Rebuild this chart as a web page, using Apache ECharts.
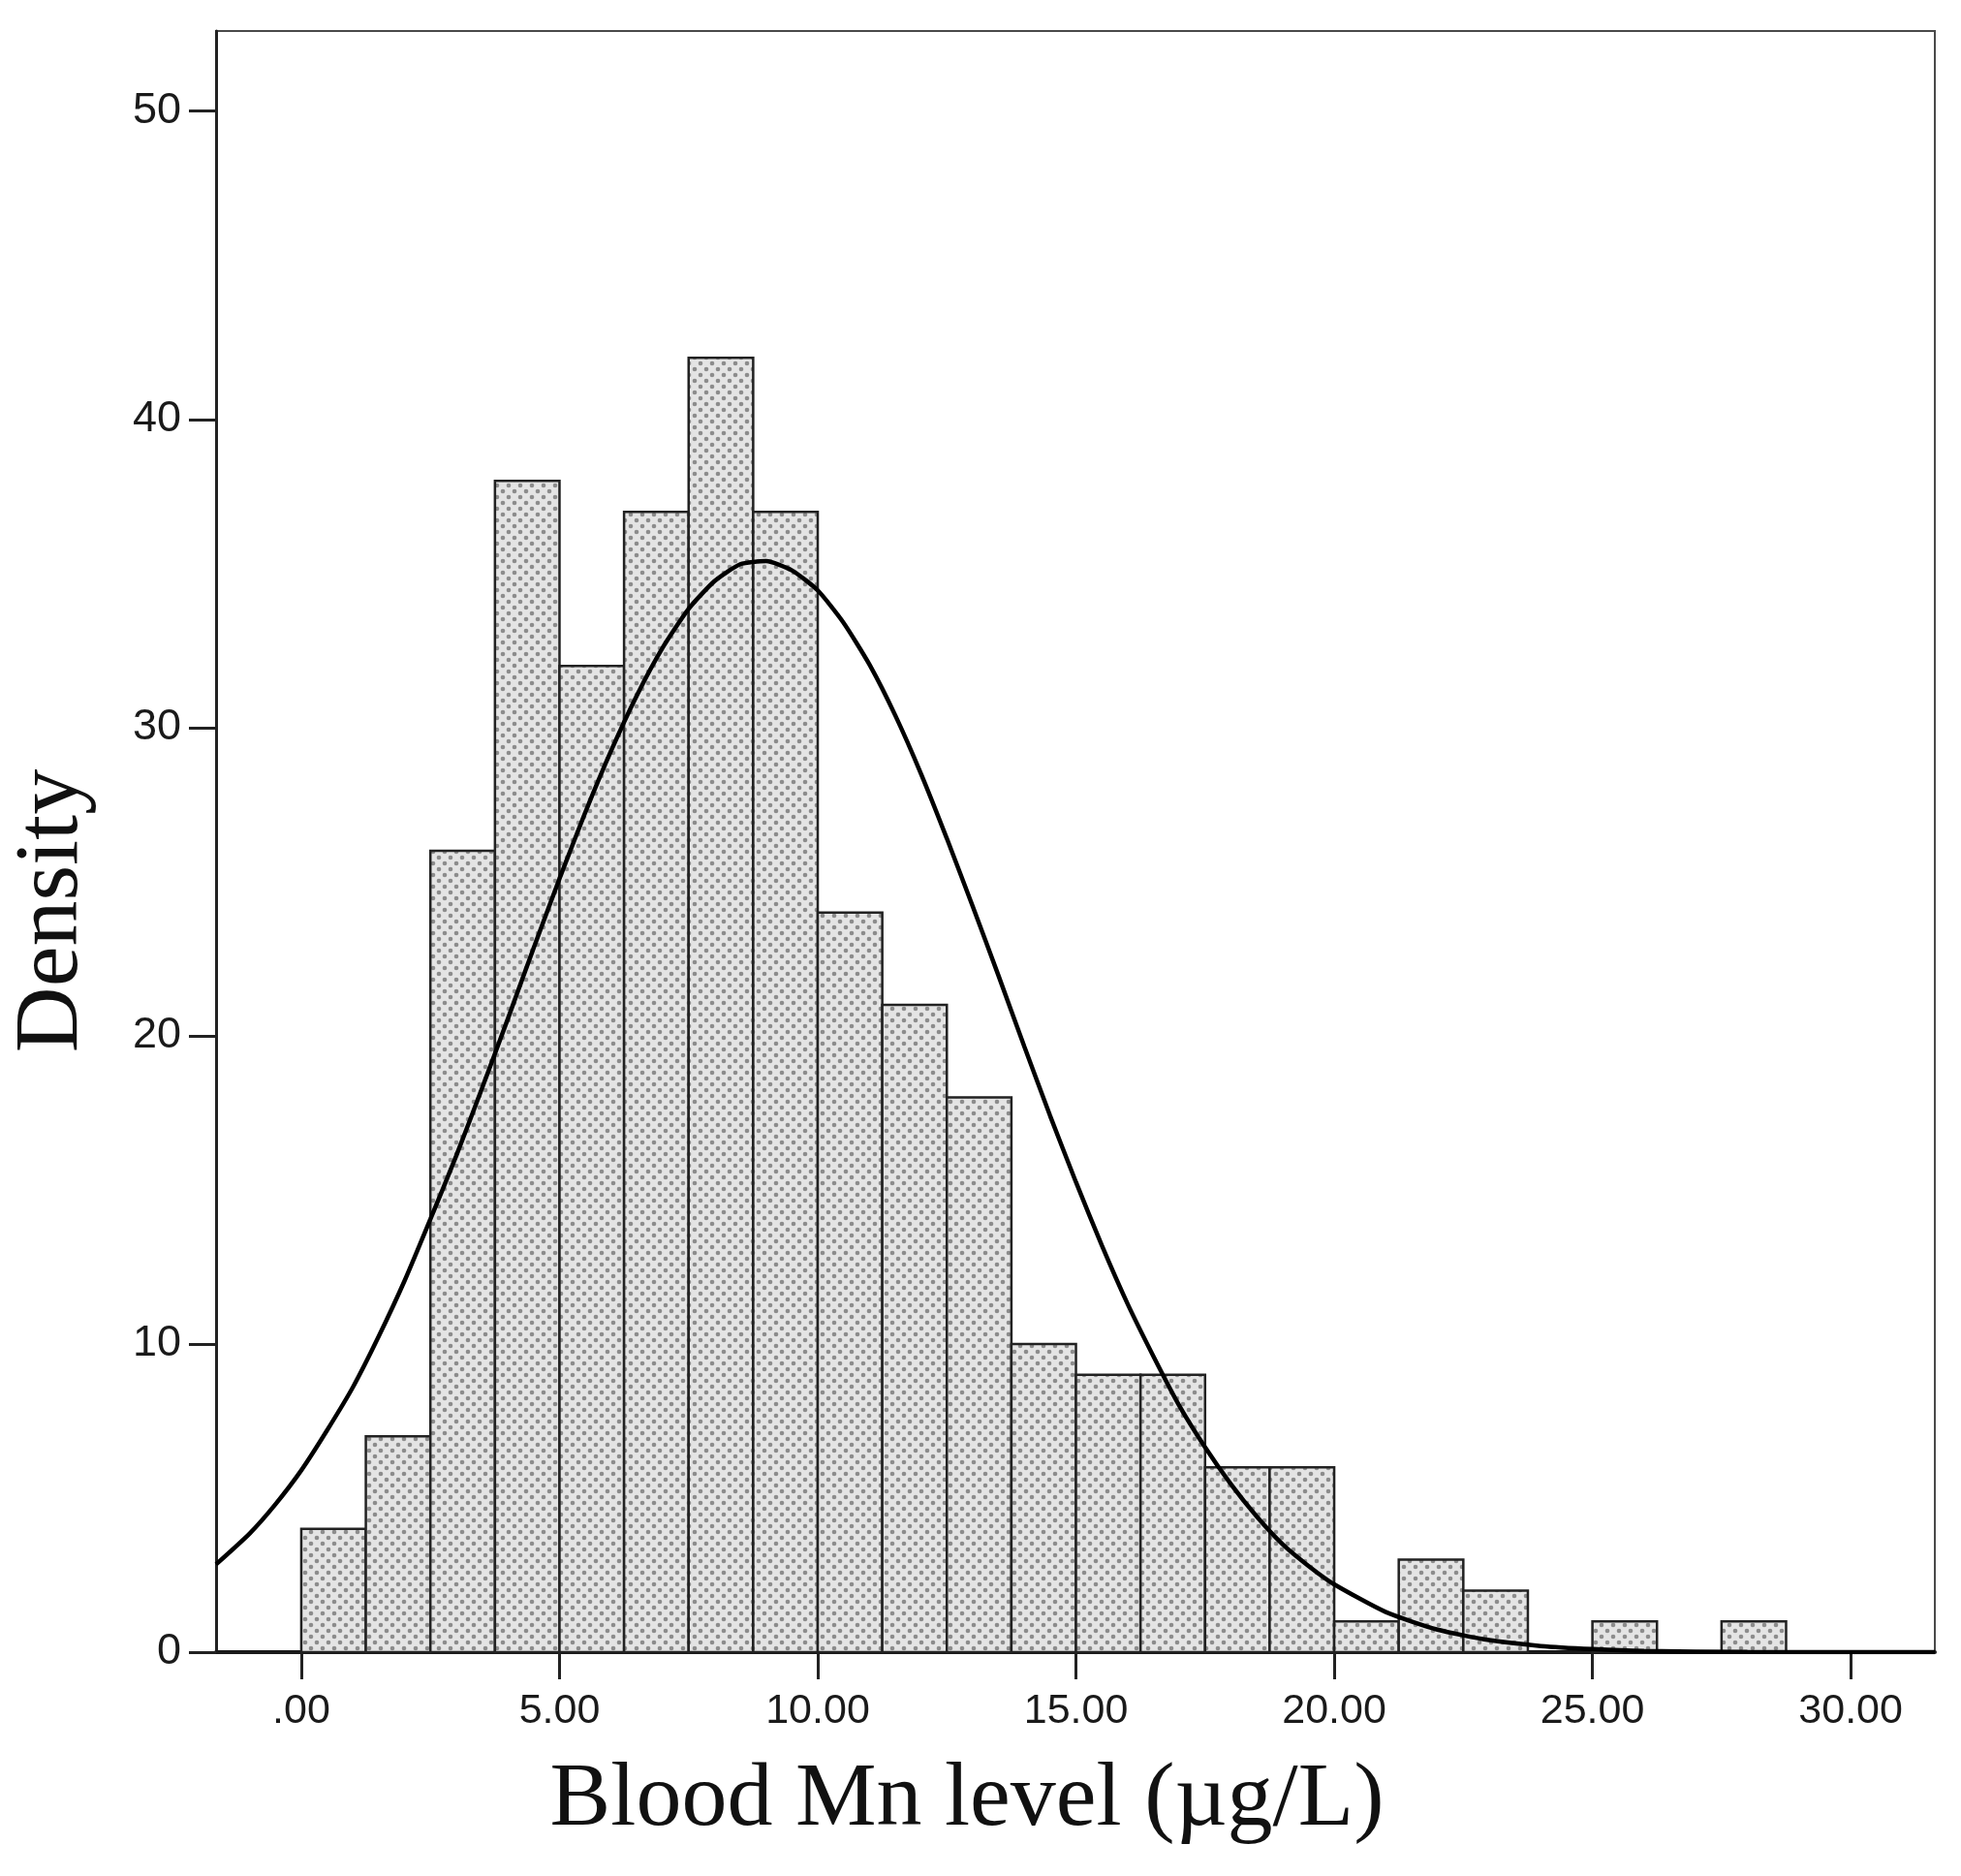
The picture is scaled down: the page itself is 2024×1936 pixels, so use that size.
<!DOCTYPE html>
<html>
<head>
<meta charset="utf-8">
<script src="https://cdn.jsdelivr.net/npm/echarts@6/dist/echarts.min.js"></script>
<style>
html,body{margin:0;padding:0;background:#fff;}
#chart{width:2024px;height:1936px;}
</style>
</head>
<body>
<div id="chart"></div>
<script>
// Histogram bins (Blood Mn level, µg/L)
var binStart = [0, 1.25, 2.5, 3.75, 5, 6.25, 7.5, 8.75, 10, 11.25, 12.5, 13.75, 15, 16.25, 17.5, 18.75, 20, 21.25, 22.5, 23.75, 25, 26.25, 27.5];
var binEnd   = [1.25, 2.5, 3.75, 5, 6.25, 7.5, 8.75, 10, 11.25, 12.5, 13.75, 15, 16.25, 17.5, 18.75, 20, 21.25, 22.5, 23.75, 25, 26.25, 27.5, 28.75];
var counts   = [4, 7, 26, 38, 32, 37, 42, 37, 24, 21, 18, 10, 9, 9, 6, 6, 1, 3, 2, 0, 1, 0, 1];

// Fitted normal curve
var curveX = [-1.65, -1, -0.5, 0, 0.5, 1, 1.5, 2, 2.5, 3, 3.5, 4, 4.5, 5, 5.5, 6, 6.5, 7, 7.5, 8, 8.5, 9, 9.5, 10, 10.5, 11, 11.5, 12, 12.5, 13, 13.5, 14, 14.5, 15, 15.5, 16, 16.5, 17, 17.5, 18, 18.5, 19, 19.5, 20, 21, 22, 23, 24, 25, 26, 28, 31.63];
var curveY = [2.85, 3.85, 4.8, 5.9, 7.2, 8.6, 10.25, 12.05, 14.05, 16.1, 18.3, 20.55, 22.85, 25.1, 27.25, 29.25, 31.05, 32.6, 33.85, 34.75, 35.3, 35.4, 35.1, 34.45, 33.4, 32.05, 30.4, 28.5, 26.4, 24.2, 21.95, 19.65, 17.4, 15.25, 13.2, 11.3, 9.6, 8.0, 6.65, 5.45, 4.4, 3.5, 2.8, 2.2, 1.3, 0.73, 0.39, 0.2, 0.1, 0.04, 0.005, 0];

var xTicks = [0, 5, 10, 15, 20, 25, 30];
var yTicks = [0, 10, 20, 30, 40, 50];

var xTitle = 'Blood Mn level (µg/L)';
var yTitle = 'Density';

var barData = [];
for (var i = 0; i < counts.length; i++) {
  if (counts[i] > 0) barData.push([binStart[i], binEnd[i], counts[i]]);
}
var curveData = curveX.map(function (x, i) { return [x, curveY[i]]; });

// dotted fill pattern
var pc = document.createElement('canvas');
pc.width = 12; pc.height = 12;
var g = pc.getContext('2d');
g.fillStyle = '#e4e4e4';
g.fillRect(0, 0, 12, 12);
g.fillStyle = '#8c8c8c';
[[3, 3], [9, 9]].forEach(function (p) {
  g.beginPath(); g.arc(p[0], p[1], 2.3, 0, Math.PI * 2); g.fill();
});

var chart = echarts.init(document.getElementById('chart'), null, {renderer: 'canvas'});
chart.setOption({
  animation: false,
  backgroundColor: '#fff',
  grid: {left: 223, right: 27, top: 32, bottom: 231, show: true, borderColor: '#4a4a4a', borderWidth: 2, backgroundColor: 'transparent'},
  xAxis: {
    type: 'value', min: -1.65, max: 31.63,
    axisLine: {show: true, onZero: false, lineStyle: {color: '#1a1a1a', width: 4}},
    axisTick: {show: true, customValues: xTicks, length: 28, lineStyle: {color: '#222', width: 3}},
    axisLabel: {customValues: xTicks, margin: 40, fontFamily: 'Liberation Sans', fontSize: 43, color: '#1a1a1a',
      formatter: function (v) { return v === 0 ? '.00' : v.toFixed(2); }},
    splitLine: {show: false}
  },
  yAxis: {
    type: 'value', min: 0, max: 52.6,
    axisLine: {show: true, onZero: false, lineStyle: {color: '#222', width: 3}},
    axisTick: {show: true, customValues: yTicks, length: 28, lineStyle: {color: '#222', width: 3}},
    axisLabel: {customValues: yTicks, margin: 36, fontFamily: 'Liberation Sans', fontSize: 45, color: '#1a1a1a'},
    splitLine: {show: false}
  },
  graphic: [
    {type: 'text', x: 998, y: 1858, style: {text: xTitle, font: '94px "Liberation Serif"', fill: '#111', align: 'center', verticalAlign: 'middle'}},
    {type: 'text', x: 54, y: 940, rotation: Math.PI / 2, style: {text: yTitle, font: '94px "Liberation Serif"', fill: '#111', align: 'center', verticalAlign: 'middle'}}
  ],
  series: [
    {
      type: 'custom',
      data: barData,
      encode: {x: [0, 1], y: 2},
      renderItem: function (params, api) {
        var p0 = api.coord([api.value(0), api.value(2)]);
        var p1 = api.coord([api.value(1), 0]);
        return {
          type: 'rect',
          shape: {x: p0[0], y: p0[1], width: p1[0] - p0[0], height: p1[1] - p0[1]},
          style: {fill: {image: pc, repeat: 'repeat'}, stroke: '#222', lineWidth: 2.5}
        };
      },
      z: 2
    },
    {
      type: 'line',
      data: curveData,
      smooth: 0.2,
      showSymbol: false,
      lineStyle: {color: '#000', width: 4.5},
      z: 3
    }
  ]
});
</script>
</body>
</html>
